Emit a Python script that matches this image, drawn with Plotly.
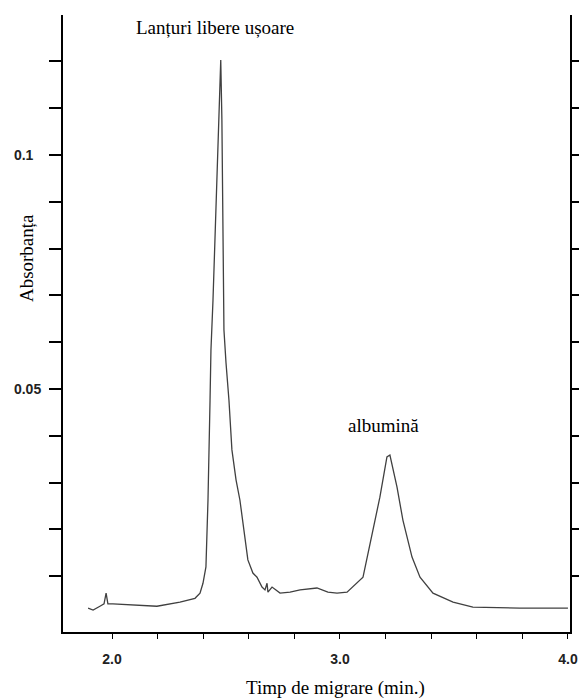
import plotly.graph_objects as go

# Electropherogram trace
time_min = [1.895, 1.917, 1.947, 1.965, 1.974, 1.982, 2.004, 2.197, 2.298, 2.364,
            2.386, 2.399, 2.412, 2.421, 2.430, 2.434, 2.443, 2.456, 2.469, 2.477,
            2.482, 2.487, 2.491, 2.500, 2.513, 2.526, 2.544, 2.561, 2.579, 2.596,
            2.618, 2.636, 2.658, 2.671, 2.680, 2.684, 2.702, 2.737, 2.781, 2.825,
            2.899, 2.947, 2.987, 3.031, 3.101, 3.145, 3.175, 3.206, 3.219, 3.250,
            3.276, 3.316, 3.351, 3.408, 3.496, 3.583, 3.789, 4.000]
absorbance = [0.0032, 0.0028, 0.0036, 0.0041, 0.0064, 0.0041, 0.0041, 0.0036, 0.0045, 0.0053,
              0.0064, 0.0085, 0.0120, 0.0263, 0.0476, 0.0583, 0.0690, 0.0904, 0.1117, 0.1203,
              0.1075, 0.0797, 0.0626, 0.0556, 0.0476, 0.0370, 0.0306, 0.0263, 0.0199, 0.0135,
              0.0107, 0.0098, 0.0077, 0.0071, 0.0085, 0.0066, 0.0077, 0.0064, 0.0066, 0.0071,
              0.0075, 0.0066, 0.0064, 0.0066, 0.0098, 0.0199, 0.0269, 0.0355, 0.0359, 0.0291,
              0.0220, 0.0141, 0.0098, 0.0064, 0.0045, 0.0034, 0.0032, 0.0032]

y_tick_vals = [0.01, 0.02, 0.03, 0.04, 0.05, 0.06, 0.07, 0.08, 0.09, 0.10, 0.11, 0.12]
y_tick_text = ["", "", "", "", "0.05", "", "", "", "", "0.1\u00a0\u00a0", "", ""]
x_tick_vals = [2.0, 2.2, 2.4, 2.6, 2.8, 3.0, 3.2, 3.4, 3.6, 3.8, 4.0]
x_tick_text = ["2.0", "", "", "", "", "3.0", "", "", "", "", "4.0"]

peak_labels = ["Lanțuri libere ușoare", "albumină"]
x_title = "Timp de migrare (min.)"
y_title = "Absorbanța"

x_range = [1.785, 4.009]
y_range = [-0.0019, 0.1299]

fig = go.Figure()
fig.add_trace(go.Scatter(x=time_min, y=absorbance, mode="lines",
                         line=dict(color="#404040", width=1.3), showlegend=False,
                         hoverinfo="skip"))

tick_font = dict(family="Liberation Sans, Arial", size=14, color="#222", weight="bold")
serif = "Liberation Serif, Times New Roman, serif"

fig.update_layout(
    width=579, height=700,
    margin=dict(l=63, r=9, t=15, b=68, autoexpand=False),
    paper_bgcolor="white", plot_bgcolor="white",
    xaxis=dict(range=x_range, showgrid=False, zeroline=False, showline=True,
               automargin=False,
               linecolor="black", linewidth=2, ticks="outside", ticklen=5,
               tickwidth=1.3, tickcolor="black", tickvals=x_tick_vals,
               ticktext=x_tick_text, tickfont=tick_font, ticklabelstandoff=8),
    yaxis=dict(range=y_range, showgrid=False, zeroline=False, showline=True,
               mirror="ticks", automargin=False,
               linecolor="black", linewidth=2, ticks="outside", ticklen=12,
               tickwidth=1.6, tickcolor="black", tickvals=y_tick_vals,
               ticktext=y_tick_text, tickfont=tick_font, ticklabelstandoff=5),
    font=dict(family=serif, size=19, color="black"),
)

ann_font = dict(family=serif, size=19, color="black")
fig.add_annotation(text=peak_labels[0], xref="paper", yref="paper",
                   x=0.300, y=0.979, xanchor="center", yanchor="middle",
                   showarrow=False, font=ann_font)
fig.add_annotation(text=peak_labels[1], xref="paper", yref="paper",
                   x=0.633, y=0.335, xanchor="center", yanchor="middle",
                   showarrow=False, font=ann_font)
fig.add_annotation(text=y_title, xref="paper", yref="paper",
                   x=-0.073, y=0.606, xanchor="center", yanchor="middle",
                   textangle=-90, showarrow=False, font=ann_font)
fig.add_annotation(text=x_title, xref="paper", yref="paper",
                   x=0.538, y=-0.0908, xanchor="center", yanchor="middle",
                   showarrow=False, font=ann_font)

fig.write_html("out.html", config={"displayModeBar": False},
               post_script="document.body.style.margin='0';"
                           "document.body.style.overflow='hidden';")
